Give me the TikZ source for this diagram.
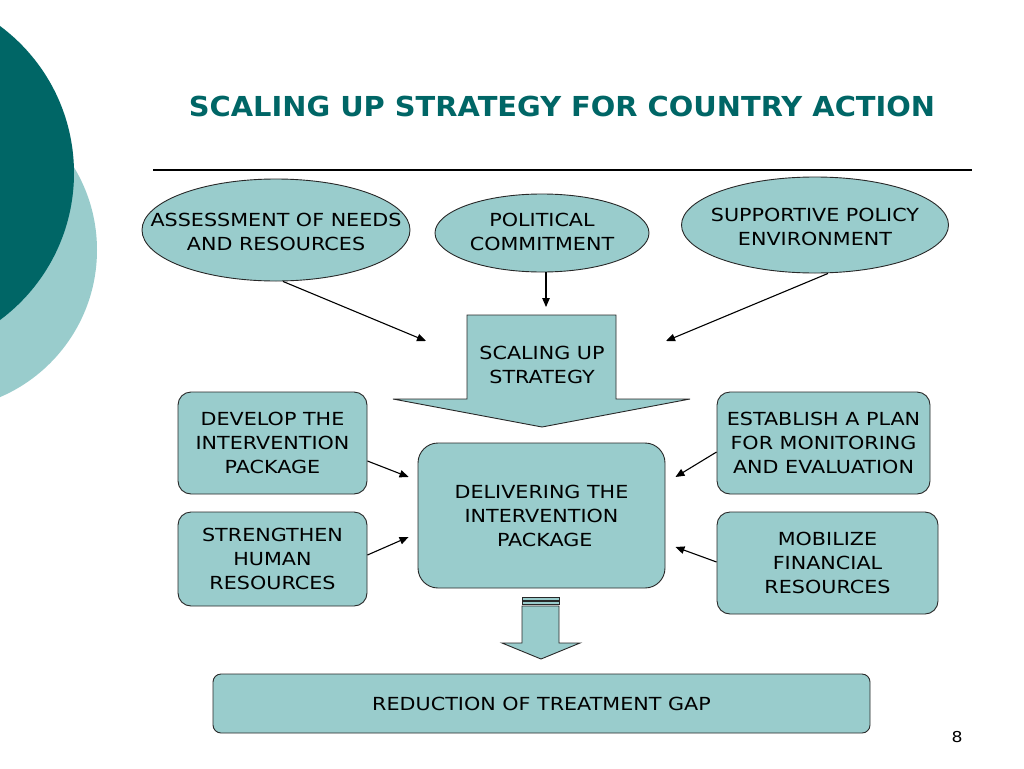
\documentclass[tikz,border=0pt]{standalone}
\usepackage{fontspec}
\setmainfont{DejaVu Sans}[FakeStretch=1.15]
\newfontfamily\titlefont{DejaVu Sans}[FakeStretch=1.05]
\usetikzlibrary{shapes.geometric,arrows.meta}
\definecolor{darkteal}{RGB}{0,102,102}
\definecolor{lightteal}{RGB}{153,204,204}
\definecolor{edgegray}{RGB}{40,40,40}
\tikzset{
  oval/.style={ellipse,draw=edgegray,line width=0.9pt,fill=lightteal,inner sep=0pt},
  rbox/.style={rectangle,rounded corners=13pt,draw=edgegray,line width=0.9pt,fill=lightteal,inner sep=0pt,align=center,font=\fontsize{18}{24}\selectfont},
  conn/.style={line width=1.1pt,-{Triangle[length=9pt,width=7.5pt]}},
  plain/.style={align=center,font=\fontsize{18}{24}\selectfont,inner sep=0pt}
}
\begin{document}
\begin{tikzpicture}[x=1pt,y=-1pt]
\useasboundingbox (0,0) rectangle (1024,768);
\fill[white] (0,0) rectangle (1024,768);
% decorative circles
\begin{scope}
\clip (0,0) rectangle (1024,768);
\fill[lightteal] (-63,250) circle[radius=160];
\fill[darkteal] (-109,173) circle[radius=183];
\end{scope}
% title
\node[font=\fontsize{27.5}{30}\selectfont\titlefont\bfseries,text=darkteal,inner sep=0pt] (title) at (562,106) {SCALING UP STRATEGY FOR COUNTRY ACTION};
\coordinate (l1) at (153,170);
\coordinate (l2) at (972,170);
\draw[line width=1.2pt] (l1) -- (l2);
% ellipses
\node[oval,minimum width=268pt,minimum height=102pt] (as) at (276,230) {};
\node[plain] (ast) at (276,232) {ASSESSMENT OF NEEDS\\AND RESOURCES};
\node[oval,minimum width=214pt,minimum height=78pt] (pc) at (542,233) {};
\node[plain] (pct) at (542,231.5) {POLITICAL\\COMMITMENT};
\node[oval,minimum width=267pt,minimum height=96pt] (sp) at (815,225) {};
\node[plain] (spt) at (815,227) {SUPPORTIVE POLICY\\ENVIRONMENT};
% big arrow
\draw[edgegray,line width=0.9pt,fill=lightteal] (467,315) -- (616,315) -- (616,399) -- (690,399) -- (542,427) -- (393,399) -- (467,399) -- cycle;
\node[plain] (su) at (542,365) {SCALING UP\\STRATEGY};
\coordinate (t1) at (426,341);
\coordinate (t2) at (546,307);
\coordinate (t3) at (666,341);
\draw[conn] ([xshift=7pt]as.south) -- (t1);
\draw[conn] ([xshift=4pt]pc.south) -- (t2);
\draw[conn] ([xshift=13pt]sp.south) -- (t3);
% boxes
\node[rbox,minimum width=189pt,minimum height=102pt] (dev) at (272.5,443) {DEVELOP THE\\INTERVENTION\\PACKAGE};
\node[rbox,minimum width=189pt,minimum height=94pt] (str) at (272.5,559) {STRENGTHEN\\HUMAN\\RESOURCES};
\node[rbox,rounded corners=20pt,minimum width=247pt,minimum height=145pt] (del) at (541.5,515.5) {DELIVERING THE\\INTERVENTION\\\ PACKAGE};
\node[rbox,minimum width=213pt,minimum height=102pt] (est) at (823.5,443) {ESTABLISH A PLAN\\FOR MONITORING\\AND EVALUATION};
\node[rbox,minimum width=221pt,minimum height=102pt] (mob) at (827.5,563) {MOBILIZE\\FINANCIAL\\RESOURCES};
\draw[conn] ([yshift=-18pt]dev.east) -- ([xshift=-9pt,yshift=38.5pt]del.west);
\draw[conn] ([yshift=4pt]str.east) -- ([xshift=-9pt,yshift=-21.5pt]del.west);
\draw[conn] ([yshift=-9pt]est.west) -- ([xshift=10pt,yshift=38.5pt]del.east);
\draw[conn] ([yshift=1pt]mob.west) -- ([xshift=10pt,yshift=-31.5pt]del.east);
% small striped arrow
\draw[edgegray,line width=0.8pt,fill=lightteal] (522,597) rectangle (559,600);
\draw[edgegray,line width=0.8pt,fill=lightteal] (522,601.5) rectangle (559,604.5);
\draw[edgegray,line width=0.9pt,fill=lightteal] (522,606) -- (559,606) -- (559,643) -- (580,643) -- (541,659) -- (502,643) -- (522,643) -- cycle;
% result box
\node[rbox,rounded corners=8pt,minimum width=657pt,minimum height=59pt] (red) at (541.5,703.5) {REDUCTION OF TREATMENT GAP};
\node[font=\fontsize{15}{18}\selectfont,inner sep=0pt] (pg) at (957,737) {8};
\end{tikzpicture}
\end{document}
